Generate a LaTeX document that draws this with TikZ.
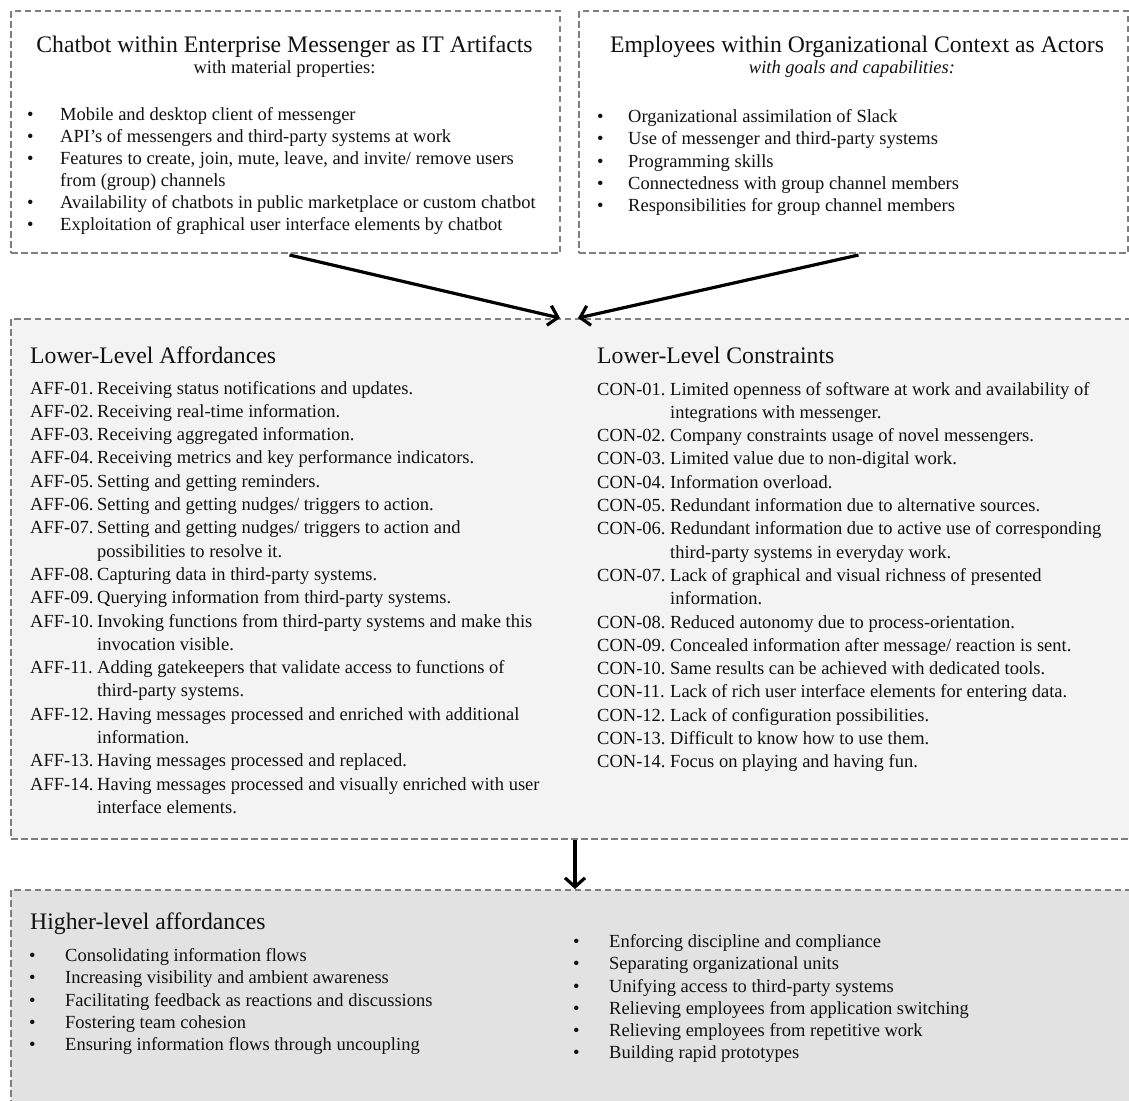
\documentclass[tikz,border=0pt]{standalone}
\usepackage{fontspec}
\setmainfont{Liberation Serif}
\usetikzlibrary{arrows.meta,calc}
\definecolor{dashgray}{HTML}{7F7F7F}
\definecolor{midfill}{HTML}{F3F3F3}
\definecolor{lowfill}{HTML}{E2E2E2}
\definecolor{txt}{HTML}{111111}
\begin{document}
\begin{tikzpicture}[x=1pt,y=-1pt,
  box/.style={draw=dashgray, line width=2pt, dash pattern=on 6.5pt off 3.5pt, inner sep=0pt, anchor=north west},
  body/.style={anchor=base west, inner sep=0pt, font=\fontsize{18.5}{22}\selectfont, text=txt},
  head/.style={anchor=base west, inner sep=0pt, font=\fontsize{23.7}{28}\selectfont, text=txt},
  arr/.style={line width=3.2pt, -{Straight Barb[length=9pt,width=20pt,line width=3.2pt]}}
]
\path[use as bounding box, clip] (0,0) rectangle (1129,1100);
\fill[white] (0,0) rectangle (1129,1100);

% boxes
\node[box, minimum width=549pt, minimum height=242pt] (artifact) at (10,10) {};
\node[box, minimum width=549pt, minimum height=242pt] (actors) at (578,10) {};
\node[box, fill=midfill, minimum width=1130pt, minimum height=520pt] (lower) at (10,318) {};
\node[box, fill=lowfill, minimum width=1130pt, minimum height=260pt] (higher) at (10,889) {};

% top-left
\node[head, anchor=base] (t1) at (284.5,52) {Chatbot within Enterprise Messenger as IT Artifacts};
\node[body, anchor=base] (s1) at (284.5,73) {with material properties:};
\node[body] (ab1) at (27,120) {•};
\node[body] (a1) at (60,120) {Mobile and desktop client of messenger};
\node[body] (ab2) at (27,142) {•};
\node[body] (a2) at (60,142) {API’s of messengers and third-party systems at work};
\node[body] (ab3) at (27,164) {•};
\node[body] (a3) at (60,164) {Features to create, join, mute, leave, and invite/ remove users};
\node[body] (a3b) at (60,186) {from (group) channels};
\node[body] (ab4) at (27,208) {•};
\node[body] (a4) at (60,208) {Availability of chatbots in public marketplace or custom chatbot};
\node[body] (ab5) at (27,230) {•};
\node[body] (a5) at (60,230) {Exploitation of graphical user interface elements by chatbot};

% top-right
\node[head, anchor=base] (t2) at (857,52) {Employees within Organizational Context as Actors};
\node[body, anchor=base] (s2) at (852,73) {\itshape with goals and capabilities:};
\node[body] (bb1) at (597,122) {•};
\node[body] (b1) at (628,122) {Organizational assimilation of Slack};
\node[body] (bb2) at (597,144) {•};
\node[body] (b2) at (628,144) {Use of messenger and third-party systems};
\node[body] (bb3) at (597,167) {•};
\node[body] (b3) at (628,167) {Programming skills};
\node[body] (bb4) at (597,189) {•};
\node[body] (b4) at (628,189) {Connectedness with group channel members};
\node[body] (bb5) at (597,211) {•};
\node[body] (b5) at (628,211) {Responsibilities for group channel members};

% arrows into middle box
\coordinate (inL) at (560,318);
\coordinate (inR) at (578,318);
\draw[arr] ($(artifact.south)+(4,1)$) -- (inL);
\draw[arr] ($(actors.south)+(5,1)$) -- (inR);

% middle: affordances
\node[head] (ha) at (30,363) {Lower-Level Affordances};
\node[body] (l1) at (30,394) {AFF-01.};     \node[body] (r1) at (97,394) {Receiving status notifications and updates.};
\node[body] (l2) at (30,417.3) {AFF-02.};   \node[body] (r2) at (97,417.3) {Receiving real-time information.};
\node[body] (l3) at (30,440.6) {AFF-03.};   \node[body] (r3) at (97,440.6) {Receiving aggregated information.};
\node[body] (l4) at (30,463.9) {AFF-04.};   \node[body] (r4) at (97,463.9) {Receiving metrics and key performance indicators.};
\node[body] (l5) at (30,487.2) {AFF-05.};   \node[body] (r5) at (97,487.2) {Setting and getting reminders.};
\node[body] (l6) at (30,510.5) {AFF-06.};   \node[body] (r6) at (97,510.5) {Setting and getting nudges/ triggers to action.};
\node[body] (l7) at (30,533.8) {AFF-07.};   \node[body] (r7) at (97,533.8) {Setting and getting nudges/ triggers to action and};
\node[body] (r7b) at (97,557.1) {possibilities to resolve it.};
\node[body] (l8) at (30,580.4) {AFF-08.};   \node[body] (r8) at (97,580.4) {Capturing data in third-party systems.};
\node[body] (l9) at (30,603.7) {AFF-09.};   \node[body] (r9) at (97,603.7) {Querying information from third-party systems.};
\node[body] (l10) at (30,627) {AFF-10.};    \node[body] (r10) at (97,627) {Invoking functions from third-party systems and make this};
\node[body] (r10b) at (97,650.3) {invocation visible.};
\node[body] (l11) at (30,673.6) {AFF-11.};  \node[body] (r11) at (97,673.6) {Adding gatekeepers that validate access to functions of};
\node[body] (r11b) at (97,696.9) {third-party systems.};
\node[body] (l12) at (30,720.2) {AFF-12.};  \node[body] (r12) at (97,720.2) {Having messages processed and enriched with additional};
\node[body] (r12b) at (97,743.5) {information.};
\node[body] (l13) at (30,766.8) {AFF-13.};  \node[body] (r13) at (97,766.8) {Having messages processed and replaced.};
\node[body] (l14) at (30,790.1) {AFF-14.};  \node[body] (r14) at (97,790.1) {Having messages processed and visually enriched with user};
\node[body] (r14b) at (97,813.4) {interface elements.};

% middle: constraints
\node[head] (hc) at (597,363) {Lower-Level Constraints};
\node[body] (c1) at (597,395) {CON-01.};    \node[body] (d1) at (670,395) {Limited openness of software at work and availability of};
\node[body] (d1b) at (670,418.3) {integrations with messenger.};
\node[body] (c2) at (597,441.6) {CON-02.};  \node[body] (d2) at (670,441.6) {Company constraints usage of novel messengers.};
\node[body] (c3) at (597,464.9) {CON-03.};  \node[body] (d3) at (670,464.9) {Limited value due to non-digital work.};
\node[body] (c4) at (597,488.2) {CON-04.};  \node[body] (d4) at (670,488.2) {Information overload.};
\node[body] (c5) at (597,511.5) {CON-05.};  \node[body] (d5) at (670,511.5) {Redundant information due to alternative sources.};
\node[body] (c6) at (597,534.8) {CON-06.};  \node[body] (d6) at (670,534.8) {Redundant information due to active use of corresponding};
\node[body] (d6b) at (670,558.1) {third-party systems in everyday work.};
\node[body] (c7) at (597,581.4) {CON-07.};  \node[body] (d7) at (670,581.4) {Lack of graphical and visual richness of presented};
\node[body] (d7b) at (670,604.7) {information.};
\node[body] (c8) at (597,628) {CON-08.};    \node[body] (d8) at (670,628) {Reduced autonomy due to process-orientation.};
\node[body] (c9) at (597,651.3) {CON-09.};  \node[body] (d9) at (670,651.3) {Concealed information after message/ reaction is sent.};
\node[body] (c10) at (597,674.6) {CON-10.}; \node[body] (d10) at (670,674.6) {Same results can be achieved with dedicated tools.};
\node[body] (c11) at (597,697.9) {CON-11.}; \node[body] (d11) at (670,697.9) {Lack of rich user interface elements for entering data.};
\node[body] (c12) at (597,721.2) {CON-12.}; \node[body] (d12) at (670,721.2) {Lack of configuration possibilities.};
\node[body] (c13) at (597,744.5) {CON-13.}; \node[body] (d13) at (670,744.5) {Difficult to know how to use them.};
\node[body] (c14) at (597,767.8) {CON-14.}; \node[body] (d14) at (670,767.8) {Focus on playing and having fun.};

% arrow down
\coordinate (dn) at (575,840);
\draw[arr] (lower.south -| dn) -- (higher.north -| dn);

% bottom
\node[head] (hh) at (30,929) {Higher-level affordances};
\node[body] (eb1) at (29,961) {•};   \node[body] (e1) at (65,961) {Consolidating information flows};
\node[body] (eb2) at (29,983) {•};   \node[body] (e2) at (65,983) {Increasing visibility and ambient awareness};
\node[body] (eb3) at (29,1006) {•};  \node[body] (e3) at (65,1006) {Facilitating feedback as reactions and discussions};
\node[body] (eb4) at (29,1028) {•};  \node[body] (e4) at (65,1028) {Fostering team cohesion};
\node[body] (eb5) at (29,1050) {•};  \node[body] (e5) at (65,1050) {Ensuring information flows through uncoupling};

\node[body] (fb1) at (573,947) {•};  \node[body] (f1) at (609,947) {Enforcing discipline and compliance};
\node[body] (fb2) at (573,969) {•};  \node[body] (f2) at (609,969) {Separating organizational units};
\node[body] (fb3) at (573,992) {•};  \node[body] (f3) at (609,992) {Unifying access to third-party systems};
\node[body] (fb4) at (573,1014) {•}; \node[body] (f4) at (609,1014) {Relieving employees from application switching};
\node[body] (fb5) at (573,1036) {•}; \node[body] (f5) at (609,1036) {Relieving employees from repetitive work};
\node[body] (fb6) at (573,1058) {•}; \node[body] (f6) at (609,1058) {Building rapid prototypes};
\end{tikzpicture}
\end{document}
